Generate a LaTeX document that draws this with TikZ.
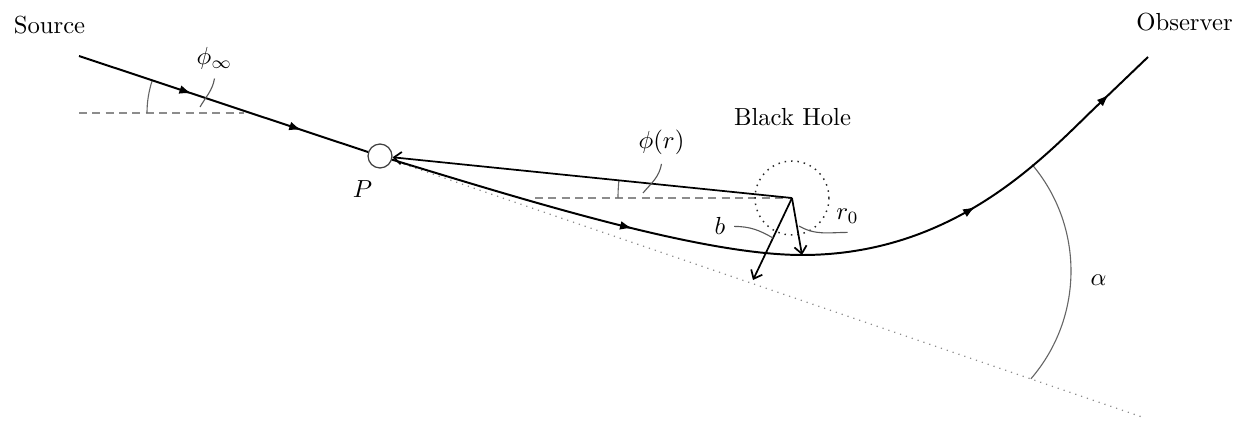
\documentclass[tikz,border=0pt]{standalone}
\usetikzlibrary{arrows.meta,decorations.markings}
\tikzset{flowtip/.tip={Latex[length=5pt,width=3.6pt]}}
\begin{document}
\begin{tikzpicture}[x=0.405pt,y=-0.405pt,
  ray/.style={line width=0.8pt, black},
  guide/.style={dash pattern=on 3.2pt off 2.2pt, black!45, line width=0.5pt},
  asymline/.style={dotted, black!45, line width=0.5pt},
  horizon/.style={dotted, black!85, line width=0.6pt},
  anglearc/.style={black!60, line width=0.45pt},
  pinline/.style={black!65, line width=0.45pt},
  vec/.style={line width=0.7pt, -{Straight Barb[length=3pt,width=5pt]}},
  lbl/.style={anchor=base},
  tipmark/.style={postaction={decorate}},
]
\useasboundingbox (0,0) rectangle (1239,425);
% points
\coordinate (src0) at (79,56);
\coordinate (obs0) at (1148,57);
\coordinate (bh) at (792,198);
\coordinate (d1s) at (79,113);
\coordinate (d1e) at (244,113);
\coordinate (d2s) at (535,198);
\coordinate (asym) at (1145,418);
\coordinate (rmin) at (802,255);
\coordinate (bfoot) at (753,280);
\coordinate (turn) at (1100,103);
\coordinate (pinphiinf) at (200,107);
\coordinate (pinphir) at (643,193);
\coordinate (pinb) at (773,238);
\coordinate (pinr) at (799,226);
\node[circle, draw=black!75, line width=0.5pt, minimum size=9.7pt, inner sep=0pt] (P) at (380,156) {};
% labels
\node[lbl] (srcl) at (49.5,34) {Source};
\node[lbl] (obsl) at (1184.5,31) {Observer};
\node[lbl] (bhl) at (792.5,126) {Black Hole};
\node[lbl] (phiinf) at (214.5,65) {$\phi_\infty$};
\node[lbl] (Pl) at (362.5,197) {$P$};
\node[lbl] (phir) at (661.5,149) {$\phi(r)$};
\node[lbl] (bl) at (720,235) {$b$};
\node[lbl] (rl) at (847.5,220) {$r_0$};
\node[lbl] (al) at (1098.5,286) {$\alpha$};
% guides
\draw[guide] (d1s) -- (d1e);
\draw[guide] (d2s) -- (bh);
\draw[asymline] (P) -- (asym);
\draw[horizon] (bh) circle[radius=37];
% angle arcs
\draw[anglearc] (251,113) ++(180:104) arc[start angle=180, end angle=198.3, radius=104];
\draw[anglearc] (bh) ++(180:174) arc[start angle=180, end angle=185.8, radius=174];
\draw[anglearc] (906,271) ++(-40.1:165) arc[start angle=-40.1, end angle=40.8, radius=165];
% rays
\draw[ray, tipmark, decoration={markings,
   mark=at position 0.39 with {\arrow{flowtip}},
   mark=at position 0.77 with {\arrow{flowtip}}}]
  (src0) -- (P);
\draw[ray, tipmark, decoration={markings,
   mark=at position 0.30 with {\arrow{flowtip}},
   mark=at position 0.725 with {\arrow{flowtip}},
   mark=at position 0.935 with {\arrow{flowtip}}}]
  (P) .. controls (522,199) and (700,255) .. (rmin)
      .. controls (960,255) and (1050,150) .. (turn) -- (obs0);
% vectors
\draw[vec] (bh) -- (P);
\draw[vec] (bh) -- (rmin);
\draw[vec] (bh) -- (bfoot);
% pins
\draw[pinline] (phiinf.south) to[out=-100, in=60] (pinphiinf);
\draw[pinline] (phir.south) to[out=-100, in=50] (pinphir);
\draw[pinline] (bl.east) to[out=0, in=150] (pinb);
\draw[pinline] (rl.south) to[out=180, in=-30] (pinr);
\end{tikzpicture}
\end{document}
